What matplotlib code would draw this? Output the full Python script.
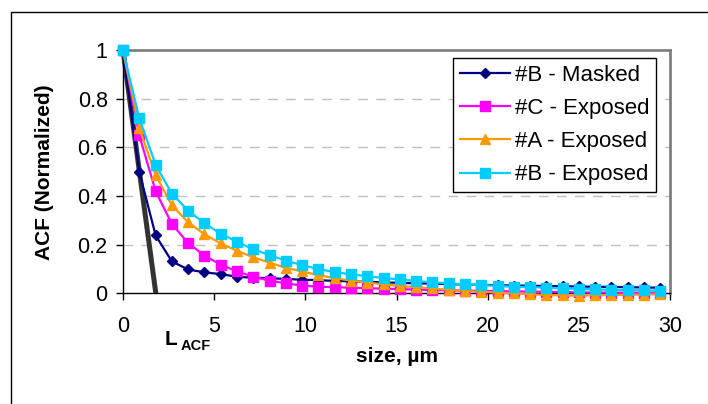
import matplotlib
matplotlib.use("Agg")
import matplotlib.pyplot as plt
from matplotlib.patches import Rectangle

plt.rcParams['font.family'] = ['Liberation Sans', 'DejaVu Sans']

size_um = [0, 0.89, 1.79, 2.68, 3.57, 4.46, 5.36, 6.25, 7.14, 8.04, 8.93,
           9.82, 10.71, 11.61, 12.5, 13.39, 14.29, 15.18, 16.07, 16.96, 17.86,
           18.75, 19.64, 20.54, 21.43, 22.32, 23.21, 24.11, 25.0, 25.89, 26.79,
           27.68, 28.57, 29.46]

b_masked = [1.0, 0.50, 0.238, 0.131, 0.098, 0.086, 0.079, 0.068, 0.064, 0.062,
            0.059, 0.056, 0.054, 0.051, 0.049, 0.047, 0.045, 0.043, 0.041, 0.040,
            0.038, 0.036, 0.035, 0.033, 0.032, 0.031, 0.030, 0.029, 0.028, 0.027,
            0.026, 0.025, 0.024, 0.023]

c_exposed = [1.0, 0.65, 0.42, 0.285, 0.207, 0.155, 0.118, 0.090, 0.068, 0.052,
             0.041, 0.032, 0.027, 0.025, 0.023, 0.021, 0.019, 0.017, 0.015, 0.013,
             0.012, 0.011, 0.010, 0.009, 0.008, 0.007, 0.006, 0.005, 0.004, 0.003,
             0.003, 0.002, 0.002, 0.002]

a_exposed = [1.0, 0.68, 0.486, 0.362, 0.292, 0.243, 0.205, 0.175, 0.148, 0.126,
             0.105, 0.090, 0.075, 0.062, 0.052, 0.044, 0.037, 0.030, 0.025, 0.020,
             0.014, 0.010, 0.006, 0.003, 0.000, -0.004, -0.007, -0.009, -0.010, -0.008,
             -0.007, -0.006, -0.005, -0.004]

b_exposed = [1.0, 0.72, 0.528, 0.41, 0.34, 0.288, 0.245, 0.212, 0.181, 0.157,
             0.134, 0.116, 0.100, 0.087, 0.078, 0.070, 0.063, 0.057, 0.051, 0.045,
             0.041, 0.037, 0.034, 0.030, 0.027, 0.026, 0.023, 0.020, 0.018, 0.016,
             0.014, 0.013, 0.012, 0.011]

lacf_x = [0, 1.8]
lacf_y = [1.0, 0.0]

series_labels = ['#B - Masked', '#C - Exposed', '#A - Exposed', '#B - Exposed']
x_ticks = [0, 5, 10, 15, 20, 25, 30]
y_ticks = [0, 0.2, 0.4, 0.6, 0.8, 1.0]
y_tick_labels = ['0', '0.2', '0.4', '0.6', '0.8', '1']

W, H = 708, 404
fig = plt.figure(figsize=(W / 100, H / 100), dpi=100)
ax = fig.add_axes([123 / W, 1 - 293.3 / H, 547 / W, 243.3 / H])

# figure border
fig.patches.append(Rectangle((11 / W, -0.1), 1.2, 1 - 12 / H + 0.1,
                             transform=fig.transFigure, fill=False,
                             edgecolor='black', linewidth=1.0))

ax.set_xlim(0, 30)
ax.set_ylim(0, 1)

for yv in y_ticks[1:-1]:
    ax.axhline(yv, color='#c0c0c0', linewidth=1.0, dashes=(7, 6), zorder=0)

ax.plot(lacf_x, lacf_y, color='#333333', linewidth=3.6, zorder=2,
        solid_capstyle='butt', clip_on=False)

styles = [
    (b_masked, '#000080', 'D', 5.5),
    (c_exposed, '#FF00FF', 's', 6.5),
    (a_exposed, '#FF9900', '^', 7.0),
    (b_exposed, '#00CCFF', 's', 6.5),
]
for (vals, col, mk, ms), lab in zip(styles, series_labels):
    ax.plot(size_um, vals, color=col, marker=mk, markersize=ms, linewidth=1.6,
            markeredgecolor=col, label=lab, zorder=3, clip_on=False)

for side in ['top', 'right']:
    ax.spines[side].set_color('#808080')
    ax.spines[side].set_linewidth(2.0)
for side in ['left', 'bottom']:
    ax.spines[side].set_color('black')
    ax.spines[side].set_linewidth(1.0)

ax.set_xticks(x_ticks)
ax.set_yticks(y_ticks)
ax.set_yticklabels(y_tick_labels)
ax.tick_params(axis='x', direction='out', length=5, width=1, pad=11.5, labelsize=15.5)
ax.tick_params(axis='y', direction='out', length=5, width=1, pad=6, labelsize=15.5)

fig.text(397 / W, 1 - 362 / H, 'size, µm', fontsize=15, fontweight='bold',
         ha='center', va='baseline')
fig.text(45 / W, 1 - 172 / H, 'ACF (Normalized)', fontsize=15, fontweight='bold',
         ha='center', va='center', rotation=90)

fig.text(165 / W, 1 - 345 / H, 'L', fontsize=15, fontweight='bold',
         ha='left', va='baseline')
fig.text(181 / W, 1 - 350 / H, 'ACF', fontsize=10.5, fontweight='bold',
         ha='left', va='baseline')

leg = ax.legend(loc='upper right', bbox_to_anchor=(0.974, 0.967),
                borderaxespad=0, fontsize=16, frameon=True, fancybox=False,
                edgecolor='black', framealpha=1, handlelength=2.25,
                handletextpad=0.22, labelspacing=0.55, borderpad=0.3)
leg.get_frame().set_linewidth(1.0)

fig.savefig('out.png', dpi=100)
